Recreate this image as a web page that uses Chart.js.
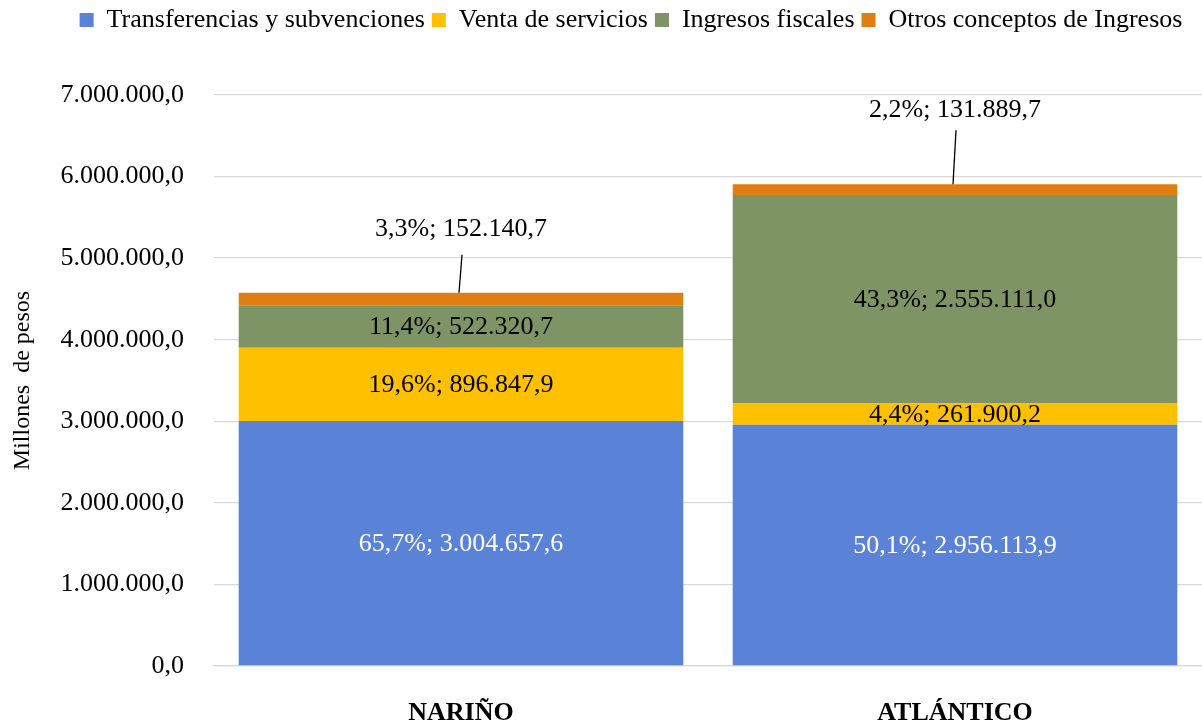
<!DOCTYPE html>
<html>
<head>
<meta charset="utf-8">
<script src="https://cdn.jsdelivr.net/npm/chart.js@4.4.1/dist/chart.umd.min.js"></script>
<style>
  html, body { margin: 0; padding: 0; background: #fff; }
  #wrap { width: 1202px; height: 724px; }
</style>
</head>
<body>
<div id="wrap"><canvas id="myBarChart"></canvas></div>
<script>
var categorias = ["NARIÑO", "ATLÁNTICO"];
var transferencias = [3004657.6, 2956113.9];
var ventaServicios = [896847.9, 261900.2];
var ingresosFiscales = [522320.7, 2555111.0];
var otrosConceptos = [152140.7, 131889.7];
var ticksY = [0, 1000000, 2000000, 3000000, 4000000, 5000000, 6000000, 7000000];

function formatoNumero(v, dec) {
  var partes = v.toFixed(dec).split(".");
  var entero = partes[0].replace(/\B(?=(\d{3})+(?!\d))/g, ".");
  return partes.length > 1 ? entero + "," + partes[1] : entero;
}

var fuente = "'Liberation Serif', 'Times New Roman', serif";

// deja espacio bajo la leyenda y la corre un poco a la derecha
var ajusteLeyenda = {
  id: "ajusteLeyenda",
  beforeInit: function (chart) {
    var fitOriginal = chart.legend.fit;
    chart.legend.fit = function () {
      fitOriginal.bind(chart.legend)();
      this.height += 52;
    };
  },
  afterLayout: function (chart) {
    chart.legend.left += 28;
    chart.legend.right += 28;
  }
};

// etiquetas de datos: valor centrado, y para "Otros" texto arriba con linea guia
var etiquetasPlugin = {
  id: "etiquetas",
  afterDatasetsDraw: function (chart) {
    var ctx = chart.ctx;
    var datasets = chart.data.datasets;
    var totales = categorias.map(function (c, i) {
      return datasets.reduce(function (s, d) { return s + d.data[i]; }, 0);
    });
    var alturaGuia = [64, 74];
    var inicioGuia = [26, 20];
    ctx.save();
    ctx.font = "26px " + fuente;
    ctx.textAlign = "center";
    ctx.textBaseline = "middle";
    datasets.forEach(function (ds, di) {
      var meta = chart.getDatasetMeta(di);
      meta.data.forEach(function (bar, i) {
        var valor = ds.data[i];
        var texto = formatoNumero(valor / totales[i] * 100, 1) + "%; " + formatoNumero(valor, 1);
        if (di === 3) {
          var yTexto = bar.y - alturaGuia[i];
          ctx.strokeStyle = "#000";
          ctx.lineWidth = 1.3;
          ctx.beginPath();
          ctx.moveTo(bar.x + 1, yTexto + inicioGuia[i]);
          ctx.lineTo(bar.x - 2, bar.y);
          ctx.stroke();
          ctx.fillStyle = "#000";
          ctx.fillText(texto, bar.x, yTexto);
        } else {
          ctx.fillStyle = di === 0 ? "#ffffff" : "#000000";
          ctx.fillText(texto, bar.x, (bar.y + bar.base) / 2 + 1);
        }
      });
    });
    ctx.restore();
  }
};

var ctxBar = document.getElementById("myBarChart").getContext("2d");
new Chart(ctxBar, {
  type: "bar",
  data: {
    labels: categorias,
    datasets: [{
      label: "Transferencias y subvenciones",
      backgroundColor: "#5A82D6",
      data: transferencias
    }, {
      label: "Venta de servicios",
      backgroundColor: "#FFC000",
      data: ventaServicios
    }, {
      label: "Ingresos fiscales",
      backgroundColor: "#7E9464",
      data: ingresosFiscales
    }, {
      label: "Otros conceptos de Ingresos",
      backgroundColor: "#DF7F11",
      data: otrosConceptos
    }]
  },
  plugins: [ajusteLeyenda, etiquetasPlugin],
  options: {
    responsive: true,
    maintainAspectRatio: false,
    animation: false,
    layout: {
      padding: { left: 4, right: 0, top: 0, bottom: 0 }
    },
    datasets: {
      bar: {
        categoryPercentage: 0.9,
        barPercentage: 1.0
      }
    },
    scales: {
      x: {
        stacked: true,
        grid: { display: false },
        border: { color: "#d9d9d9", width: 1.3 },
        ticks: {
          color: "#000",
          font: { family: fuente, size: 26, weight: "bold" },
          padding: 24
        },
        afterFit: function (axis) { axis.height = 58; }
      },
      y: {
        stacked: true,
        min: 0,
        max: 7000000,
        afterBuildTicks: function (axis) {
          axis.ticks = ticksY.map(function (v) { return { value: v }; });
        },
        afterFit: function (axis) { axis.width = 210; },
        border: { display: false },
        grid: { color: "#d9d9d9", lineWidth: 1.3, drawTicks: false },
        ticks: {
          color: "#000",
          padding: 30,
          font: { family: fuente, size: 26 },
          callback: function (value) { return formatoNumero(value, 1); }
        },
        title: {
          display: true,
          text: "Millones  de pesos",
          color: "#000",
          font: { family: fuente, size: 24 },
          padding: { top: 4, bottom: 0 }
        }
      }
    },
    plugins: {
      legend: {
        position: "top",
        labels: {
          color: "#000",
          font: { family: fuente, size: 26 },
          boxWidth: 14,
          boxHeight: 14,
          padding: 7
        }
      },
      tooltip: { enabled: false }
    }
  }
});
</script>
</body>
</html>
